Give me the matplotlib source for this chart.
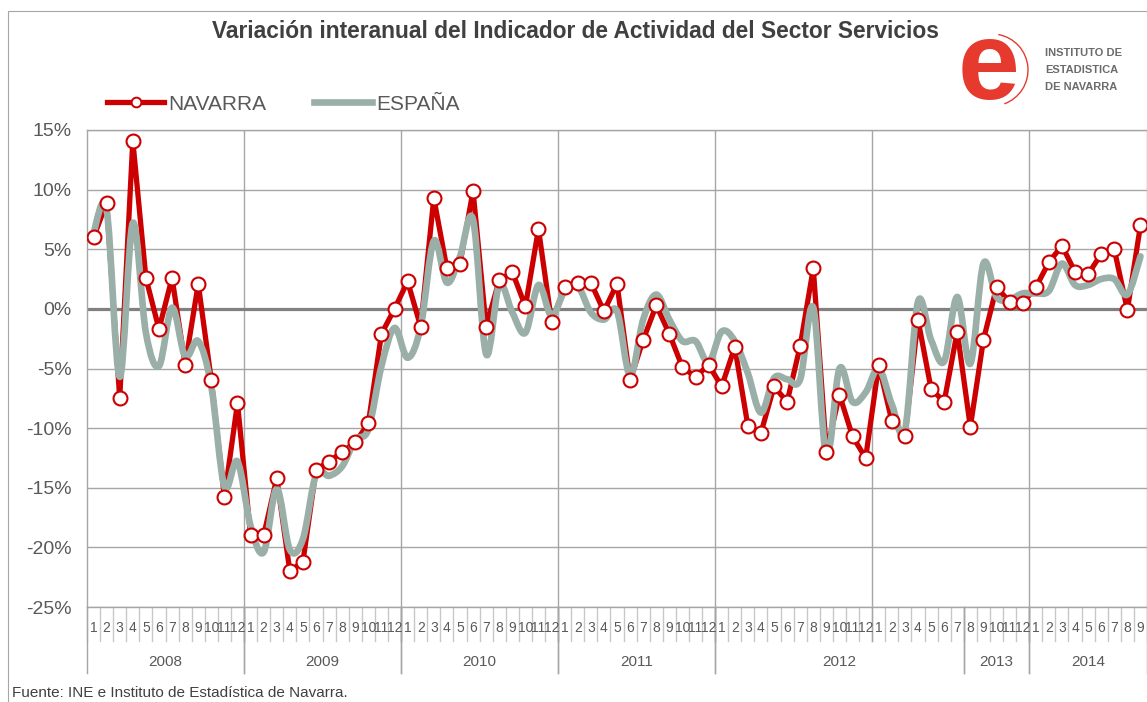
import matplotlib
matplotlib.use("Agg")
import matplotlib.pyplot as plt
import matplotlib.transforms as mtransforms
from matplotlib.path import Path
from matplotlib.patches import PathPatch, Rectangle, Arc
from matplotlib.lines import Line2D
from matplotlib import font_manager
import numpy as np

# ---------------- data ----------------
navarra = [6.0, 8.9, -7.5, 14.1, 2.6, -1.7, 2.6, -4.7, 2.1, -6.0, -15.8, -7.9,
           -19.0, -19.0, -14.2, -22.0, -21.2, -13.5, -12.8, -12.0, -11.2, -9.6, -2.1, 0.0,
           2.3, -1.5, 9.3, 3.4, 3.8, 9.9, -1.5, 2.4, 3.1, 0.2, 6.7, -1.1,
           1.8, 2.2, 2.2, -0.2, 2.1, -6.0, -2.6, 0.3, -2.1, -4.9, -5.7, -4.7,
           -6.5, -3.2, -9.8, -10.4, -6.5, -7.8, -3.1, 3.4, -12.0, -7.2, -10.7, -12.5,
           -4.7, -9.4, -10.7, -0.9, -6.7, -7.8, -1.9, -9.9, -2.6, 1.8, 0.6, 0.5,
           1.8, 3.9, 5.3, 3.1, 2.9, 4.6, 5.0, -0.1, 7.0]

espana = [6.4, 8.3, -5.7, 7.2, -2.0, -4.8, 0.1, -4.0, -2.7, -6.5, -14.9, -12.8,
          -18.2, -20.4, -15.1, -20.2, -19.3, -13.9, -14.0, -13.2, -11.0, -10.1, -4.8, -1.6,
          -4.1, -1.5, 5.7, 2.2, 4.4, 7.5, -3.8, 2.0, -0.3, -2.0, 2.0, -0.6,
          1.5, 1.9, -0.3, -0.9, -0.2, -5.6, -0.9, 1.2, -0.9, -2.7, -2.7, -4.5,
          -1.9, -2.7, -5.4, -8.7, -5.8, -5.9, -5.9, 0.1, -12.4, -5.0, -7.8, -7.0,
          -5.0, -8.0, -10.2, 0.6, -2.6, -4.4, 1.0, -4.6, 3.8, 1.0, 0.8, 1.3,
          1.3, 1.5, 3.8, 2.0, 2.0, 2.5, 2.5, 1.2, 4.4]

month_labels = [str(m) for m in range(1, 13)] * 6 + [str(m) for m in range(1, 10)]
year_labels = ["2008", "2009", "2010", "2011", "2012", "2013", "2014"]
year_group_sizes = [12, 12, 12, 12, 19, 5, 9]   # grouping as shown on the axis
year_gridlines = [12, 24, 36, 48, 60, 72]        # month index where each year starts
yticks = [-25, -20, -15, -10, -5, 0, 5, 10, 15]
ytick_labels = ["-25%", "-20%", "-15%", "-10%", "-5%", "0%", "5%", "10%", "15%"]

title = "Variación interanual del Indicador de Actividad del Sector Servicios"
source = "Fuente: INE e Instituto de Estadística de Navarra."

# ---------------- style ----------------
RED = "#CC0000"
GREY_LINE = "#9AAFA7"
GRID = "#A6A6A6"
TXT = "#595959"

names = {f.name for f in font_manager.fontManager.ttflist}
BASE = "Liberation Sans" if "Liberation Sans" in names else "DejaVu Sans"
NARROW = "Liberation Sans Narrow" if "Liberation Sans Narrow" in names else BASE
plt.rcParams["font.family"] = [BASE, "DejaVu Sans"]

W, H = 1147, 702
fig = plt.figure(figsize=(W / 100, H / 100), dpi=100)
ax = fig.add_axes([87 / W, 95 / H, 1060 / W, 477 / H])

n = len(navarra)
x = np.arange(n)
ax.set_xlim(-0.5, n - 0.5)
ax.set_ylim(-25, 15)

# grid
for yv in yticks:
    ax.axhline(yv, color=GRID, lw=1.0, zorder=1)
for xv in year_gridlines:
    ax.axvline(xv - 0.5, color=GRID, lw=1.0, zorder=1)
ax.axhline(0, color="#808080", lw=2.3, zorder=1.5)

# Navarra line
ax.plot(x, navarra, color=RED, lw=3.8, zorder=2, solid_joinstyle="round")

# España smoothed line (Bezier through data points)
pts = np.column_stack([x, espana]).astype(float)
verts = [tuple(pts[0])]
codes = [Path.MOVETO]
for i in range(n - 1):
    p0 = pts[i - 1] if i > 0 else pts[i]
    p1 = pts[i]
    p2 = pts[i + 1]
    p3 = pts[i + 2] if i + 2 < n else pts[i + 1]
    c1 = p1 + (p2 - p0) / 6.0
    c2 = p2 - (p3 - p1) / 6.0
    verts += [tuple(c1), tuple(c2), tuple(p2)]
    codes += [Path.CURVE4] * 3
ax.add_patch(PathPatch(Path(verts, codes), facecolor="none", edgecolor=GREY_LINE,
                       lw=4.8, zorder=3, capstyle="round", joinstyle="round"))

# Navarra markers
ax.plot(x, navarra, ls="none", marker="o", ms=10, mfc="white", mec=RED, mew=1.5, zorder=4)

# axes styling
for s in ax.spines.values():
    s.set_color(GRID)
    s.set_linewidth(1.0)
ax.set_xticks([])
ax.set_yticks(yticks)
ax.set_yticklabels(ytick_labels)
ax.tick_params(axis="y", length=0, pad=11, labelsize=14, labelcolor=TXT)

# category axis: month labels and separators
trans = mtransforms.blended_transform_factory(ax.transData, ax.transAxes)
mlen = 34 / 477
ylen = 66 / 477
for i in range(n + 1):
    ax.add_line(Line2D([i - 0.5, i - 0.5], [0, -mlen], transform=trans, color="#C8C8C8",
                       lw=1.0, clip_on=False))
for i in range(n):
    ax.text(i, -21 / 477, month_labels[i], transform=trans, ha="center", va="center",
            fontsize=10, color=TXT, family=NARROW, clip_on=False)
for xv in year_gridlines:
    ax.add_line(Line2D([xv - 0.5, xv - 0.5], [0, -mlen], transform=trans, color=GRID,
                       lw=1.0, clip_on=False))
start = 0
for lab, size in zip(year_labels, year_group_sizes):
    end = start + size
    for b in (start, end):
        ax.add_line(Line2D([b - 0.5, b - 0.5], [0, -ylen], transform=trans, color=GRID,
                           lw=1.0, clip_on=False))
    ax.text((start + end - 1) / 2, -55 / 477, lab, transform=trans, ha="center",
            va="center", fontsize=11, color=TXT, clip_on=False)
    start = end

# legend
handles = [Line2D([], [], color=RED, lw=3.8, marker="o", ms=7, mfc="white", mec=RED, mew=1.4),
           Line2D([], [], color=GREY_LINE, lw=4.8)]
leg = ax.legend(handles, ["NAVARRA", "ESPAÑA"], ncol=2, frameon=False, fontsize=15,
                loc="center left", bbox_to_anchor=(107 / W, 1 - 104 / H),
                bbox_transform=fig.transFigure, borderpad=0, borderaxespad=0,
                handlelength=2.75, handletextpad=0.2, columnspacing=2.3)
for t in leg.get_texts():
    t.set_color(TXT)

# title
fig.text(575 / W, 1 - 31 / H, title, ha="center", va="center", fontsize=16.4,
         fontweight="bold", color="#404040")

# logo
fig.text(988 / W, 1 - 99 / H, "e", ha="center", va="baseline", fontsize=80,
         fontweight="bold", color="#E63A2E")
fig.add_artist(Arc((992 / 100, (H - 70) / 100), 0.72, 0.72, theta1=-70, theta2=80,
                   transform=fig.dpi_scale_trans, color="#E63A2E", lw=1.0))
for yy, line in zip([53, 70, 87], ["INSTITUTO DE", "ESTADISTICA", "DE NAVARRA"]):
    fig.text(1045 / W, 1 - yy / H, line, ha="left", va="center", fontsize=8,
             fontweight="bold", color="#6B6B6B")

# source
fig.text(12 / W, 1 - 693 / H, source, ha="left", va="center", fontsize=11, color="#404040")

# chart frame
fig.add_artist(Rectangle((8 / W, -0.05), 1.2, (H - 11) / H + 0.05, transform=fig.transFigure,
                         fill=False, edgecolor=GRID, lw=0.8))

fig.savefig("out.png", dpi=100)
